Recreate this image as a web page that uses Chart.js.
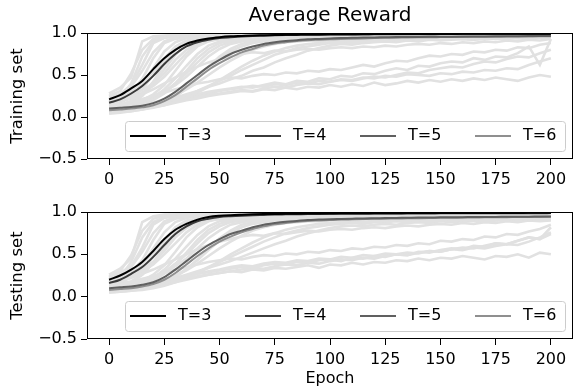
<!DOCTYPE html>
<html lang="en">
<head>
<meta charset="UTF-8" />
<title>Average Reward</title>
<script src="https://cdn.jsdelivr.net/npm/chart.js@4"></script>
<style>
  body { margin: 0; background: #fff; }
  #wrap { position: relative; width: 579px; height: 390px; }
  .panel { position: absolute; left: 0; width: 579px; height: 195px; }
</style>
</head>
<body>
<div id="wrap">
  <div class="panel" style="top:0"><canvas id="trainChart" width="579" height="195"></canvas></div>
  <div class="panel" style="top:195px"><canvas id="testChart" width="579" height="195"></canvas></div>
</div>
<script>
// x values (epochs, every 5) and axis ticks
const epochs = [0,5,10,15,20,25,30,35,40,45,50,55,60,65,70,75,80,85,90,95,100,
  105,110,115,120,125,130,135,140,145,150,155,160,165,170,175,180,185,190,195,200];
const xTicks = [0, 25, 50, 75, 100, 125, 150, 175, 200];
const yTicks = [-0.5, 0.0, 0.5, 1.0];
const seriesLabels = ["T=3", "T=4", "T=5", "T=6"];
const seriesColors = ["#000000", "#3b3b3b", "#606060", "#8f8f8f"];

// ---- training set: mean curves
const trainT3 = [.21,.26,.34,.43,.57,.70,.80,.87,.91,.935,.95,
  .96,.965,.97,.973,.976,.978,.98,.982,.983,.984,
  .985,.986,.986,.987,.987,.988,.988,.988,.989,.989,
  .989,.99,.99,.99,.99,.99,.991,.991,.991,.991];
const trainT4 = [.17,.21,.28,.37,.49,.63,.75,.84,.89,.92,.94,
  .95,.958,.964,.968,.972,.975,.977,.979,.98,.981,
  .982,.983,.984,.984,.985,.985,.986,.986,.986,.987,
  .987,.987,.988,.988,.988,.988,.989,.989,.989,.989];
const trainT5 = [.10,.11,.12,.135,.165,.22,.30,.40,.50,.60,.68,
  .75,.80,.84,.87,.89,.905,.915,.925,.93,.935,
  .94,.942,.945,.947,.949,.951,.952,.953,.954,.955,
  .956,.957,.958,.959,.96,.961,.962,.963,.964,.965];
const trainT6 = [.08,.09,.10,.115,.14,.19,.26,.36,.46,.56,.64,
  .71,.77,.81,.85,.875,.89,.905,.915,.92,.925,
  .93,.933,.936,.939,.942,.944,.946,.948,.95,.951,
  .952,.953,.954,.955,.956,.957,.958,.959,.96,.96];

// ---- training set: individual runs (light grey)
const trainRun01 = [.28,.35,.47,.90,.96,.97,.98,.97,.98,.99,.98, .99,.98,.99,.99,.98,.99,.99,.99,.98,.99, .99,.99,.99,.98,.99,.99,.99,.99,.99,.98, .99,.99,.99,.99,.99,.98,.99,.99,.99,.99];
const trainRun02 = [.22,.27,.38,.62,.88,.94,.96,.97,.96,.98,.97, .98,.98,.97,.98,.99,.98,.98,.99,.98,.98, .99,.98,.99,.98,.99,.99,.98,.99,.99,.98, .99,.99,.98,.99,.99,.99,.98,.99,.99,.99];
const trainRun03 = [.18,.22,.30,.45,.70,.88,.93,.95,.96,.95,.97, .96,.97,.97,.98,.97,.98,.97,.98,.98,.97, .98,.98,.97,.98,.98,.99,.98,.98,.97,.98, .98,.99,.98,.98,.99,.98,.98,.99,.98,.99];
const trainRun04 = [.15,.18,.24,.33,.50,.70,.84,.91,.93,.94,.95, .94,.96,.95,.96,.97,.96,.97,.96,.97,.97, .96,.97,.98,.97,.97,.98,.97,.98,.97,.98, .98,.97,.98,.98,.97,.98,.98,.98,.97,.98];
const trainRun05 = [.12,.14,.19,.27,.42,.63,.80,.90,.94,.95,.96, .97,.96,.97,.98,.97,.98,.98,.97,.98,.98, .98,.99,.98,.98,.99,.98,.99,.98,.98,.99, .98,.99,.99,.98,.99,.99,.98,.99,.99,.99];
const trainRun06 = [.20,.23,.27,.32,.40,.52,.68,.80,.88,.91,.93, .94,.93,.95,.94,.95,.96,.95,.96,.96,.95, .96,.97,.96,.96,.97,.96,.97,.97,.96,.97, .97,.96,.97,.97,.98,.97,.97,.98,.97,.98];
const trainRun07 = [.10,.12,.15,.20,.27,.38,.55,.72,.84,.90,.93, .94,.95,.95,.96,.96,.97,.96,.97,.97,.98, .97,.98,.97,.98,.98,.97,.98,.98,.98,.99, .98,.98,.99,.98,.98,.99,.98,.99,.98,.99];
const trainRun08 = [.08,.09,.12,.15,.20,.28,.40,.55,.70,.81,.88, .91,.93,.93,.94,.95,.94,.95,.96,.95,.96, .96,.95,.96,.97,.96,.96,.97,.96,.97,.97, .96,.97,.97,.98,.97,.97,.98,.97,.98,.97];
const trainRun09 = [.14,.15,.18,.21,.25,.31,.38,.48,.60,.72,.81, .87,.90,.92,.93,.92,.94,.93,.95,.94,.95, .95,.94,.96,.95,.96,.95,.96,.96,.95,.96, .97,.96,.96,.97,.96,.97,.97,.96,.97,.97];
const trainRun10 = [.06,.07,.09,.11,.14,.19,.26,.35,.46,.58,.69, .78,.84,.88,.90,.91,.92,.91,.93,.92,.93, .94,.93,.94,.95,.94,.95,.94,.95,.96,.95, .95,.96,.95,.96,.96,.95,.96,.97,.96,.96];
const trainRun11 = [.09,.10,.12,.14,.17,.21,.26,.33,.41,.50,.59, .67,.74,.80,.84,.87,.89,.90,.91,.90,.92, .92,.93,.92,.93,.94,.93,.94,.94,.93,.95, .94,.95,.94,.95,.95,.94,.96,.95,.95,.96];
const trainRun12 = [.05,.06,.07,.09,.11,.14,.18,.23,.29,.36,.44, .52,.60,.67,.73,.78,.82,.85,.87,.88,.89, .90,.91,.90,.92,.91,.92,.93,.92,.93,.93, .94,.93,.94,.94,.93,.95,.94,.95,.95,.95];
const trainRun13 = [.07,.08,.09,.11,.13,.16,.20,.25,.31,.37,.43, .49,.56,.62,.68,.74,.78,.82,.84,.86,.88, .89,.88,.90,.91,.90,.92,.91,.92,.93,.92, .93,.93,.92,.94,.93,.94,.94,.93,.95,.94];
const trainRun14 = [.11,.12,.13,.15,.17,.19,.23,.27,.31,.36,.40, .45,.49,.55,.59,.65,.70,.74,.79,.82,.85, .87,.86,.88,.89,.90,.89,.91,.90,.92,.91, .92,.93,.92,.93,.94,.93,.94,.93,.95,.94];
const trainRun15 = [.08,.09,.10,.11,.12,.14,.17,.20,.22,.25,.27, .29,.31,.30,.33,.32,.35,.33,.36,.35,.38, .36,.39,.37,.41,.38,.40,.43,.41,.44,.42, .45,.43,.46,.44,.47,.45,.43,.47,.50,.48];
const trainRun16 = [.10,.11,.12,.14,.16,.19,.22,.25,.27,.30,.32, .34,.36,.35,.38,.41,.39,.43,.42,.46,.45, .49,.48,.52,.51,.55,.58,.56,.61,.60,.64, .66,.65,.70,.68,.72,.71,.76,.84,.62,.93];
const trainRun17 = [.16,.18,.22,.27,.33,.40,.47,.54,.60,.65,.69, .72,.75,.77,.76,.79,.78,.80,.81,.80,.82, .83,.82,.84,.83,.85,.84,.86,.87,.86,.88, .87,.89,.88,.90,.89,.91,.90,.92,.91,.93];
const trainRun18 = [.06,.07,.08,.10,.12,.15,.18,.21,.24,.26,.28, .30,.32,.31,.34,.36,.35,.38,.40,.39,.42, .44,.43,.46,.48,.47,.50,.53,.52,.56,.58, .60,.59,.63,.66,.65,.69,.72,.71,.76,.80];
const trainRun19 = [.13,.15,.18,.21,.25,.29,.33,.36,.40,.42,.45, .47,.46,.49,.51,.50,.53,.52,.55,.54,.57, .56,.59,.62,.60,.64,.67,.66,.70,.73,.72, .75,.74,.78,.77,.80,.79,.83,.82,.86,.88];
const trainRun20 = [.09,.10,.11,.13,.15,.17,.20,.23,.26,.28,.31, .33,.35,.37,.36,.39,.38,.41,.40,.43,.42, .45,.44,.47,.46,.49,.48,.51,.50,.49,.52, .51,.54,.53,.56,.55,.58,.57,.62,.66,.70];
const trainRun21 = [.25,.31,.52,.80,.93,.96,.97,.98,.97,.98,.98, .99,.98,.98,.99,.98,.99,.99,.98,.99,.99, .98,.99,.99,.99,.98,.99,.99,.99,.98,.99, .99,.99,.98,.99,.99,.99,.99,.98,.99,.99];
const trainRun22 = [.19,.24,.36,.55,.77,.90,.95,.96,.97,.97,.98, .97,.98,.98,.97,.98,.99,.98,.98,.99,.98, .98,.99,.98,.99,.98,.99,.99,.98,.99,.98, .99,.98,.99,.99,.98,.99,.99,.99,.98,.99];
const trainRun23 = [.13,.17,.25,.38,.58,.78,.89,.94,.95,.96,.96, .97,.96,.97,.97,.98,.97,.98,.97,.98,.98, .97,.98,.98,.99,.98,.98,.97,.98,.98,.99, .98,.98,.99,.98,.99,.98,.98,.99,.98,.98];
const trainRun24 = [.24,.27,.32,.40,.53,.67,.80,.89,.93,.95,.96, .95,.96,.97,.96,.97,.97,.96,.97,.98,.97, .97,.98,.97,.98,.97,.98,.98,.97,.98,.98, .98,.97,.98,.98,.99,.98,.98,.98,.99,.98];
const trainRun25 = [.09,.11,.16,.25,.39,.57,.74,.86,.92,.94,.95, .96,.95,.96,.97,.96,.97,.97,.96,.97,.98, .97,.97,.98,.97,.98,.98,.97,.98,.98,.97, .98,.98,.98,.97,.98,.99,.98,.98,.98,.99];
const trainRun26 = [.17,.19,.23,.29,.37,.48,.62,.76,.86,.91,.93, .94,.95,.94,.95,.96,.95,.96,.96,.97,.96, .96,.97,.96,.97,.97,.96,.97,.97,.98,.97, .97,.98,.97,.97,.98,.97,.98,.98,.97,.98];
const trainRun27 = [.07,.08,.11,.16,.23,.33,.46,.61,.75,.85,.90, .92,.93,.94,.94,.95,.94,.95,.96,.95,.96, .96,.95,.96,.96,.97,.96,.96,.97,.96,.97, .97,.96,.97,.97,.97,.96,.97,.98,.97,.97];
const trainRun28 = [.12,.13,.15,.18,.23,.30,.40,.52,.65,.77,.85, .89,.91,.92,.93,.93,.94,.93,.94,.95,.94, .95,.95,.94,.95,.96,.95,.95,.96,.95,.96, .96,.95,.96,.96,.97,.96,.96,.97,.96,.97];
const trainRun29 = [.04,.05,.07,.09,.12,.17,.24,.34,.46,.60,.72, .81,.87,.90,.91,.92,.93,.92,.93,.94,.93, .94,.94,.93,.94,.95,.94,.95,.94,.95,.95, .94,.95,.96,.95,.95,.96,.95,.96,.96,.95];
const trainRun30 = [.16,.22,.40,.72,.90,.95,.96,.97,.98,.97,.98, .98,.99,.98,.98,.99,.98,.99,.99,.98,.99, .99,.98,.99,.99,.99,.98,.99,.99,.99,.98, .99,.99,.99,.98,.99,.99,.99,.99,.98,.99];

// ---- testing set: mean curves
const testT3 = [.20,.25,.32,.41,.54,.68,.79,.86,.91,.94,.955,
  .963,.968,.972,.975,.977,.979,.98,.981,.982,.983,
  .984,.984,.985,.985,.986,.986,.987,.987,.987,.988,
  .988,.988,.988,.989,.989,.989,.989,.99,.99,.99];
const testT4 = [.16,.20,.27,.35,.47,.61,.74,.83,.89,.92,.94,
  .95,.957,.962,.966,.97,.972,.974,.976,.977,.978,
  .979,.98,.98,.981,.981,.982,.982,.983,.983,.984,
  .984,.984,.985,.985,.985,.986,.986,.986,.986,.987];
const testT5 = [.10,.11,.12,.14,.17,.23,.32,.42,.52,.61,.68,
  .74,.78,.82,.85,.87,.885,.895,.905,.91,.915,
  .918,.921,.924,.926,.928,.93,.932,.934,.935,.937,
  .938,.939,.94,.941,.942,.943,.944,.945,.946,.947];
const testT6 = [.08,.09,.10,.12,.15,.20,.28,.38,.48,.57,.65,
  .71,.76,.80,.83,.855,.87,.885,.895,.90,.905,
  .91,.913,.916,.919,.921,.923,.925,.927,.929,.931,
  .932,.934,.935,.937,.938,.939,.94,.941,.942,.943];

// ---- testing set: individual runs (light grey)
const testRun01 = [.26,.33,.45,.88,.95,.97,.97,.98,.98,.97,.98, .99,.98,.98,.99,.98,.99,.98,.99,.99,.98, .99,.98,.99,.99,.98,.99,.99,.98,.99,.99, .98,.99,.99,.99,.98,.99,.99,.99,.98,.99];
const testRun02 = [.23,.28,.36,.58,.85,.93,.95,.96,.97,.96,.97, .97,.98,.97,.98,.98,.97,.98,.98,.99,.98, .98,.99,.98,.98,.99,.98,.99,.99,.98,.99, .99,.98,.99,.99,.98,.99,.99,.98,.99,.99];
const testRun03 = [.17,.21,.29,.43,.67,.86,.92,.94,.95,.96,.96, .97,.96,.97,.98,.97,.97,.98,.97,.98,.98, .97,.98,.98,.97,.98,.98,.99,.98,.98,.97, .98,.98,.99,.98,.98,.99,.98,.98,.99,.98];
const testRun04 = [.14,.17,.23,.31,.47,.67,.82,.90,.92,.94,.94, .95,.95,.96,.95,.96,.96,.97,.96,.97,.96, .97,.97,.96,.97,.98,.97,.97,.98,.97,.98, .97,.98,.98,.97,.98,.98,.97,.98,.98,.98];
const testRun05 = [.12,.13,.18,.26,.40,.60,.78,.88,.93,.95,.95, .96,.97,.96,.97,.97,.98,.97,.98,.98,.97, .98,.98,.99,.98,.98,.98,.99,.98,.99,.98, .99,.98,.99,.99,.98,.99,.99,.99,.98,.99];
const testRun06 = [.21,.24,.28,.33,.41,.54,.70,.81,.88,.90,.92, .93,.94,.94,.95,.94,.95,.96,.95,.96,.96, .95,.96,.97,.96,.96,.97,.96,.97,.97,.96, .97,.97,.96,.97,.98,.97,.97,.97,.98,.97];
const testRun07 = [.10,.11,.14,.19,.26,.37,.53,.70,.82,.89,.92, .93,.94,.95,.95,.96,.95,.96,.97,.96,.97, .97,.96,.97,.98,.97,.97,.98,.97,.98,.98, .97,.98,.98,.98,.97,.98,.98,.99,.98,.98];
const testRun08 = [.07,.08,.11,.14,.19,.27,.38,.52,.67,.79,.86, .90,.92,.93,.93,.94,.94,.95,.95,.94,.95, .96,.95,.95,.96,.96,.95,.96,.97,.96,.96, .97,.96,.97,.97,.96,.97,.97,.98,.97,.97];
const testRun09 = [.15,.16,.18,.21,.24,.29,.36,.45,.57,.69,.78, .85,.88,.90,.92,.92,.93,.92,.94,.93,.94, .94,.95,.94,.95,.95,.94,.96,.95,.95,.96, .95,.96,.96,.95,.96,.97,.96,.96,.97,.96];
const testRun10 = [.06,.07,.08,.10,.13,.18,.24,.33,.43,.55,.66, .75,.82,.86,.88,.90,.90,.91,.92,.91,.92, .93,.92,.93,.94,.93,.94,.94,.93,.94,.95, .94,.95,.94,.95,.95,.94,.95,.96,.95,.95];
const testRun11 = [.09,.10,.11,.13,.16,.20,.25,.31,.39,.48,.57, .65,.72,.78,.82,.85,.87,.88,.89,.89,.90, .91,.90,.91,.92,.91,.92,.93,.92,.93,.93, .92,.94,.93,.94,.93,.94,.95,.94,.94,.95];
const testRun12 = [.05,.06,.07,.08,.10,.13,.17,.22,.28,.34,.42, .50,.57,.64,.70,.75,.79,.82,.84,.86,.87, .88,.89,.88,.90,.89,.90,.91,.90,.91,.92, .91,.92,.92,.91,.93,.92,.93,.93,.92,.93];
const testRun13 = [.08,.08,.10,.11,.13,.15,.19,.24,.29,.35,.41, .47,.53,.59,.65,.70,.75,.78,.81,.83,.85, .86,.87,.86,.88,.88,.89,.88,.90,.89,.90, .91,.90,.91,.91,.90,.92,.91,.92,.92,.92];
const testRun14 = [.11,.12,.13,.14,.16,.19,.22,.26,.30,.34,.38, .42,.47,.52,.57,.62,.66,.71,.75,.78,.81, .83,.84,.83,.85,.86,.85,.87,.88,.87,.89, .88,.89,.90,.89,.90,.91,.90,.91,.92,.91];
const testRun15 = [.08,.09,.10,.11,.13,.15,.18,.21,.24,.26,.28, .30,.29,.32,.31,.34,.33,.35,.37,.34,.38, .37,.40,.38,.41,.40,.43,.42,.45,.43,.46, .45,.48,.46,.44,.48,.47,.50,.46,.52,.50];
const testRun16 = [.09,.10,.12,.13,.15,.18,.21,.24,.27,.29,.31, .33,.35,.34,.37,.39,.38,.41,.40,.43,.44, .42,.46,.45,.48,.47,.50,.49,.53,.52,.55, .57,.56,.60,.59,.63,.62,.66,.70,.68,.82];
const testRun17 = [.15,.18,.22,.27,.32,.38,.44,.50,.56,.61,.65, .68,.71,.73,.72,.75,.74,.76,.78,.77,.79, .80,.79,.81,.82,.81,.83,.84,.83,.85,.86, .85,.87,.86,.88,.87,.89,.88,.90,.89,.90];
const testRun18 = [.06,.07,.08,.10,.12,.14,.17,.20,.23,.26,.28, .30,.32,.34,.33,.36,.38,.37,.40,.39,.42, .44,.43,.46,.45,.48,.50,.49,.52,.54,.53, .56,.58,.57,.60,.63,.62,.66,.70,.68,.74];
const testRun19 = [.13,.14,.17,.20,.24,.28,.32,.35,.38,.41,.43, .45,.44,.47,.49,.48,.51,.50,.53,.52,.55, .54,.57,.56,.59,.58,.61,.60,.63,.62,.66, .65,.68,.67,.71,.70,.74,.73,.77,.80,.85];
const testRun20 = [.10,.11,.12,.14,.16,.18,.21,.24,.27,.30,.32, .35,.37,.36,.39,.41,.40,.43,.42,.45,.44, .47,.46,.49,.48,.51,.50,.52,.51,.54,.53, .56,.55,.58,.57,.60,.62,.61,.65,.70,.76];
const testRun21 = [.24,.30,.49,.78,.92,.96,.97,.97,.98,.98,.97, .98,.99,.98,.98,.99,.98,.99,.98,.99,.99, .98,.99,.98,.99,.99,.98,.99,.99,.99,.98, .99,.98,.99,.99,.99,.98,.99,.99,.99,.98];
const testRun22 = [.20,.25,.35,.53,.75,.89,.94,.96,.96,.97,.97, .98,.97,.98,.98,.97,.98,.98,.99,.98,.98, .99,.98,.98,.99,.98,.99,.98,.99,.99,.98, .98,.99,.99,.98,.99,.99,.98,.99,.99,.99];
const testRun23 = [.14,.18,.26,.39,.57,.76,.88,.93,.95,.95,.96, .96,.97,.97,.96,.97,.98,.97,.97,.98,.97, .98,.98,.97,.98,.98,.98,.97,.99,.98,.98, .98,.99,.98,.98,.98,.99,.98,.98,.99,.98];
const testRun24 = [.23,.26,.31,.39,.51,.65,.78,.87,.92,.94,.95, .95,.96,.96,.97,.96,.97,.96,.97,.97,.98, .97,.97,.98,.97,.98,.97,.98,.98,.97,.98, .98,.98,.97,.98,.98,.98,.99,.98,.98,.98];
const testRun25 = [.10,.12,.17,.26,.40,.58,.75,.86,.91,.93,.94, .95,.96,.95,.96,.96,.97,.96,.97,.97,.96, .97,.98,.97,.97,.98,.97,.98,.98,.97,.98, .98,.97,.98,.98,.98,.99,.98,.98,.98,.98];
const testRun26 = [.18,.20,.24,.30,.38,.50,.63,.76,.85,.90,.92, .93,.94,.95,.94,.95,.95,.96,.95,.96,.96, .97,.96,.96,.97,.96,.97,.97,.96,.97,.97, .98,.97,.97,.97,.98,.97,.97,.98,.98,.97];
const testRun27 = [.07,.08,.10,.15,.22,.32,.45,.59,.73,.83,.89, .91,.92,.93,.94,.94,.95,.94,.95,.95,.96, .95,.96,.96,.95,.96,.97,.96,.96,.97,.96, .97,.97,.96,.97,.97,.97,.98,.97,.97,.97];
const testRun28 = [.12,.13,.14,.17,.22,.29,.39,.50,.63,.75,.83, .88,.90,.91,.92,.93,.93,.94,.93,.94,.94, .95,.94,.95,.95,.94,.95,.96,.95,.95,.96, .96,.96,.95,.96,.96,.97,.96,.96,.96,.97];
const testRun29 = [.05,.06,.07,.09,.12,.16,.23,.32,.44,.57,.69, .78,.85,.88,.90,.91,.92,.91,.92,.93,.93, .93,.94,.93,.94,.94,.93,.94,.95,.94,.94, .95,.94,.95,.95,.94,.95,.96,.95,.95,.95];
const testRun30 = [.17,.23,.41,.70,.88,.94,.96,.97,.97,.98,.97, .98,.98,.99,.98,.98,.99,.98,.99,.98,.99, .99,.98,.99,.99,.98,.99,.99,.99,.99,.98, .99,.99,.98,.99,.99,.99,.98,.99,.99,.99];

const trainRuns = [trainRun01, trainRun02, trainRun03, trainRun04, trainRun05, trainRun06,
  trainRun07, trainRun08, trainRun09, trainRun10, trainRun11, trainRun12, trainRun13,
  trainRun14, trainRun15, trainRun16, trainRun17, trainRun18, trainRun19, trainRun20,
  trainRun21, trainRun22, trainRun23, trainRun24, trainRun25, trainRun26, trainRun27,
  trainRun28, trainRun29, trainRun30];
const testRuns = [testRun01, testRun02, testRun03, testRun04, testRun05, testRun06,
  testRun07, testRun08, testRun09, testRun10, testRun11, testRun12, testRun13,
  testRun14, testRun15, testRun16, testRun17, testRun18, testRun19, testRun20,
  testRun21, testRun22, testRun23, testRun24, testRun25, testRun26, testRun27,
  testRun28, testRun29, testRun30];

Chart.defaults.font.family = "'DejaVu Sans', sans-serif";
Chart.defaults.color = "#000";

function toPoints(values) {
  return epochs.map((e, i) => ({ x: e, y: values[i] }));
}

function fmtTick(v) {
  return v.toFixed(1).replace("-", "\u2212");
}

// full box around the axes, like matplotlib spines
const frameBox = {
  id: "frameBox",
  afterDatasetsDraw(chart) {
    const { ctx, chartArea: a } = chart;
    ctx.save();
    ctx.strokeStyle = "#000";
    ctx.lineWidth = 1;
    ctx.strokeRect(Math.round(a.left) + 0.5, Math.round(a.top) + 0.5,
      Math.round(a.right - a.left) - 1, Math.round(a.bottom - a.top) - 1);
    ctx.restore();
  }
};

// legend drawn inside the axes, lower right, 4 columns
const insideLegend = {
  id: "insideLegend",
  afterDraw(chart) {
    const { ctx, chartArea: a } = chart;
    const w = 440, h = 30, r = 3;
    const x0 = Math.round(a.right - 8 - w) + 0.5, y0 = Math.round(a.bottom - 8 - h) + 0.5;
    ctx.save();
    ctx.beginPath();
    ctx.moveTo(x0 + r, y0);
    ctx.arcTo(x0 + w, y0, x0 + w, y0 + h, r);
    ctx.arcTo(x0 + w, y0 + h, x0, y0 + h, r);
    ctx.arcTo(x0, y0 + h, x0, y0, r);
    ctx.arcTo(x0, y0, x0 + w, y0, r);
    ctx.closePath();
    ctx.fillStyle = "rgba(255,255,255,0.8)";
    ctx.fill();
    ctx.strokeStyle = "#cccccc";
    ctx.lineWidth = 1;
    ctx.stroke();
    ctx.font = "16px 'DejaVu Sans'";
    ctx.textBaseline = "middle";
    chart.data.datasets.filter(ds => ds.label).forEach((ds, i) => {
      const lx = x0 + 4.5 + i * 115, ly = y0 + 14.5;
      ctx.strokeStyle = ds.borderColor;
      ctx.lineWidth = 2;
      ctx.beginPath();
      ctx.moveTo(lx, ly);
      ctx.lineTo(lx + 36, ly);
      ctx.stroke();
      ctx.fillStyle = "#000";
      ctx.fillText(ds.label, lx + 48, ly);
    });
    ctx.restore();
  }
};

function makeChart(id, mainSeries, runs, cfg) {
  const datasets = mainSeries.map((vals, i) => ({
    label: seriesLabels[i],
    data: toPoints(vals),
    borderColor: seriesColors[i],
    borderWidth: 2,
    cubicInterpolationMode: "monotone"
  }));
  runs.forEach(vals => {
    datasets.push({
      data: toPoints(vals),
      borderColor: "#e1e1e1",
      borderWidth: 2.6,
      tension: 0
    });
  });

  return new Chart(document.getElementById(id), {
    type: "line",
    data: { datasets },
    plugins: [frameBox, insideLegend],
    options: {
      responsive: false,
      animation: false,
      events: [],
      layout: { padding: { left: 0, right: 6, top: cfg.padTop, bottom: 0 } },
      elements: { point: { radius: 0 } },
      plugins: {
        legend: { display: false },
        tooltip: { enabled: false },
        title: {
          display: !!cfg.title,
          text: cfg.title,
          fullSize: false,
          font: { size: 20, weight: "normal" },
          color: "#000",
          padding: { top: 3.5, bottom: 5.5 }
        }
      },
      scales: {
        x: {
          type: "linear",
          min: -10,
          max: 210,
          afterBuildTicks: s => { s.ticks = xTicks.map(v => ({ value: v })); },
          afterFit: s => { s.height = cfg.xHeight; },
          grid: { drawOnChartArea: false, drawTicks: true, tickLength: 6, color: "#000" },
          border: { display: false },
          ticks: { font: { size: 16 }, color: "#000", padding: 5, maxRotation: 0, autoSkip: false },
          title: {
            display: !!cfg.xTitle,
            text: cfg.xTitle,
            font: { size: 16 },
            color: "#000",
            padding: { top: 0, bottom: 1.5 }
          }
        },
        y: {
          min: -0.5,
          max: 1.0,
          afterBuildTicks: s => { s.ticks = yTicks.map(v => ({ value: v })); },
          afterFit: s => { s.width = 87; },
          grid: { drawOnChartArea: false, drawTicks: true, tickLength: 6, color: "#000" },
          border: { display: false },
          ticks: { font: { size: 16 }, color: "#000", padding: 4, callback: v => fmtTick(v) },
          title: {
            display: true,
            text: cfg.yTitle,
            font: { size: 16.5 },
            color: "#000",
            padding: { top: 8, bottom: 0 }
          }
        }
      }
    }
  });
}

makeChart("trainChart", [trainT3, trainT4, trainT5, trainT6], trainRuns,
  { title: "Average Reward", yTitle: "Training set", xTitle: "", padTop: 0, xHeight: 36 });
makeChart("testChart", [testT3, testT4, testT5, testT6], testRuns,
  { title: "", yTitle: "Testing set", xTitle: "Epoch", padTop: 17, xHeight: 51 });
</script>
</body>
</html>
